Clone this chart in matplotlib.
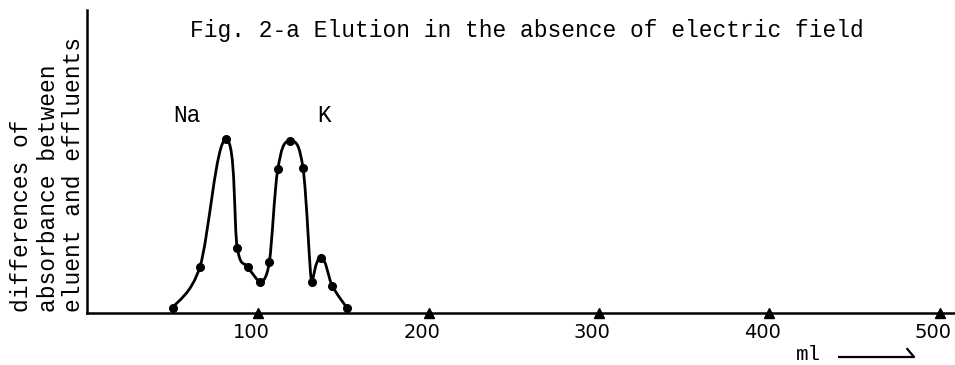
import numpy as np
import matplotlib.pyplot as plt
from matplotlib.path import Path
from matplotlib.patches import PathPatch
from matplotlib.transforms import ScaledTranslation

# volume of effluent (ml) and absorbance difference (arbitrary units)
volume = [49.8, 65.8, 81.1, 87.7, 93.8, 101.1, 106.5, 111.5, 118.7, 126.3,
          131.4, 136.7, 143.5, 152.0]
absorb = [5.3, 46.3, 173.7, 65.3, 46.3, 31.3, 50.7, 143.7, 172.3, 144.7,
          31.3, 55.3, 27.0, 5.3]
xticks = [100, 200, 300, 400, 500]
xlabels = ["100", "200", "300", "400", "500"]

mono = "Liberation Mono"

fig = plt.figure(figsize=(9.55, 3.65), dpi=100)
ax = fig.add_axes([87 / 955, 1 - 313 / 365, 1 - 87 / 955, 303 / 365])
ax.set_xlim(-0.5, 509)
ax.set_ylim(0, 303)

# smooth hand-drawn look: Catmull-Rom through the points as a bezier path,
# with flat tangents at the peaks and dips
x = np.array(volume)
y = np.array(absorb)
pts = np.column_stack([x, y])
n = len(pts)
tang = np.zeros_like(pts)
for i in range(n):
    a = pts[max(i - 1, 0)]
    b = pts[min(i + 1, n - 1)]
    t = (b - a) / 2.0
    if 0 < i < n - 1:
        up = y[i] > y[i - 1] and y[i] > y[i + 1]
        down = y[i] < y[i - 1] and y[i] < y[i + 1]
        if up:
            t = np.array([(b[0] - a[0]) * 0.8, 0.0])
        elif down:
            t = np.array([(b[0] - a[0]) * 0.3, 0.0])
    tang[i] = t
verts = [pts[0]]
codes = [Path.MOVETO]
for i in range(n - 1):
    verts += [pts[i] + tang[i] / 3.0, pts[i + 1] - tang[i + 1] / 3.0, pts[i + 1]]
    codes += [Path.CURVE4] * 3
ax.add_patch(PathPatch(Path(verts, codes), fill=False, lw=2,
                       edgecolor="black", capstyle="round", joinstyle="round"))
ax.plot(x, y, "o", color="black", ms=5.5)

# triangle tick marks on the axis
ax.plot(xticks, [0] * len(xticks), "^", color="black", ms=6.5, clip_on=False)

ax.set_xticks(xticks)
ax.set_xticklabels(xlabels, fontsize=14, family="DejaVu Sans")
ax.tick_params(axis="x", length=0, pad=7)
for lab in ax.get_xticklabels():
    lab.set_transform(lab.get_transform() + ScaledTranslation(-7 / 100, 0, fig.dpi_scale_trans))
ax.set_yticks([])

for s in ["top", "right"]:
    ax.spines[s].set_visible(False)
ax.spines["left"].set_linewidth(1.8)
ax.spines["bottom"].set_linewidth(1.8)

# labels
ax.text(50, 198, "Na", family=mono, fontsize=16.5, ha="left", va="center")
ax.text(134.5, 198, "K", family=mono, fontsize=16.5, ha="left", va="center")
fig.text(190 / 955, 1 - 31 / 365, "Fig. 2-a Elution in the absence of electric field",
         family=mono, fontsize=16.5, ha="left", va="center")

ylines = ["differences of", "absorbance between", "eluent and effluents"]
for xc, t in zip([22, 49, 74], ylines):
    fig.text(xc / 955, 1 - 312 / 365, t, family=mono, fontsize=16.5,
             rotation=90, ha="center", va="bottom")

# "ml ->" under the axis
ax.text(415.4, -41, "ml", family=mono, fontsize=15, ha="left", va="center", clip_on=False)
ax.plot([441, 485, 481], [-44, -44, -36], color="black", lw=1.6, clip_on=False)

fig.savefig("out.png", dpi=100)
